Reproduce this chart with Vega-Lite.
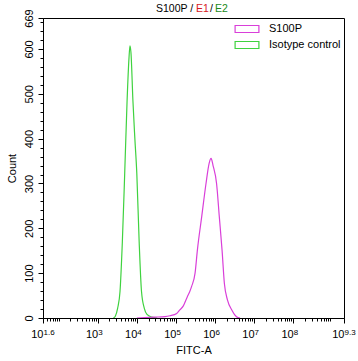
{
  "$schema": "https://vega.github.io/schema/vega-lite/v6.json",
  "autosize": {"type": "none"},
  "padding": {"left": 43, "top": 18, "right": 14, "bottom": 43},
  "width": 301,
  "height": 300,
  "background": "white",
  "config": {
    "view": {"stroke": "black", "strokeWidth": 1},
    "font": "Liberation Sans",
    "axis": {"domainColor": "black", "tickColor": "black", "labelColor": "black", "titleColor": "black", "titleFontWeight": "normal", "labelFont": "Liberation Sans", "titleFont": "Liberation Sans", "grid": false, "labelOverlap": false, "labelFlush": false, "labelBound": false}
  },
  "datasets": {
    "curves": [
      {"series": "Isotype control", "fitc_log": 3.40, "count": 0},
      {"series": "Isotype control", "fitc_log": 3.45, "count": 4},
      {"series": "Isotype control", "fitc_log": 3.51, "count": 22},
      {"series": "Isotype control", "fitc_log": 3.57, "count": 59},
      {"series": "Isotype control", "fitc_log": 3.63, "count": 170},
      {"series": "Isotype control", "fitc_log": 3.69, "count": 322},
      {"series": "Isotype control", "fitc_log": 3.75, "count": 482},
      {"series": "Isotype control", "fitc_log": 3.80, "count": 580},
      {"series": "Isotype control", "fitc_log": 3.825, "count": 607},
      {"series": "Isotype control", "fitc_log": 3.85, "count": 592},
      {"series": "Isotype control", "fitc_log": 3.90, "count": 485},
      {"series": "Isotype control", "fitc_log": 3.95, "count": 400},
      {"series": "Isotype control", "fitc_log": 4.00, "count": 322},
      {"series": "Isotype control", "fitc_log": 4.06, "count": 170},
      {"series": "Isotype control", "fitc_log": 4.12, "count": 59},
      {"series": "Isotype control", "fitc_log": 4.19, "count": 22},
      {"series": "Isotype control", "fitc_log": 4.26, "count": 8},
      {"series": "Isotype control", "fitc_log": 4.38, "count": 2},
      {"series": "Isotype control", "fitc_log": 4.52, "count": 0},
      {"series": "S100P", "fitc_log": 4.00, "count": 0},
      {"series": "S100P", "fitc_log": 4.20, "count": 1},
      {"series": "S100P", "fitc_log": 4.45, "count": 2},
      {"series": "S100P", "fitc_log": 4.72, "count": 3},
      {"series": "S100P", "fitc_log": 4.85, "count": 5},
      {"series": "S100P", "fitc_log": 5.02, "count": 10},
      {"series": "S100P", "fitc_log": 5.10, "count": 18},
      {"series": "S100P", "fitc_log": 5.19, "count": 27},
      {"series": "S100P", "fitc_log": 5.29, "count": 47},
      {"series": "S100P", "fitc_log": 5.35, "count": 58},
      {"series": "S100P", "fitc_log": 5.40, "count": 70},
      {"series": "S100P", "fitc_log": 5.49, "count": 100},
      {"series": "S100P", "fitc_log": 5.55, "count": 152},
      {"series": "S100P", "fitc_log": 5.66, "count": 226},
      {"series": "S100P", "fitc_log": 5.77, "count": 300},
      {"series": "S100P", "fitc_log": 5.85, "count": 345},
      {"series": "S100P", "fitc_log": 5.90, "count": 356},
      {"series": "S100P", "fitc_log": 5.95, "count": 340},
      {"series": "S100P", "fitc_log": 6.04, "count": 300},
      {"series": "S100P", "fitc_log": 6.11, "count": 226},
      {"series": "S100P", "fitc_log": 6.18, "count": 152},
      {"series": "S100P", "fitc_log": 6.24, "count": 77},
      {"series": "S100P", "fitc_log": 6.32, "count": 40},
      {"series": "S100P", "fitc_log": 6.43, "count": 18},
      {"series": "S100P", "fitc_log": 6.55, "count": 3},
      {"series": "S100P", "fitc_log": 6.64, "count": 0}
    ]
  },
  "layer": [
    {
      "data": {"name": "curves"},
      "mark": {"type": "line", "strokeWidth": 1.2, "interpolate": "monotone", "clip": true},
      "encoding": {
        "x": {
          "field": "fitc_log", "type": "quantitative",
          "scale": {"domain": [1.6, 9.3], "nice": false, "zero": false},
          "axis": {
            "orient": "bottom",
            "title": "FITC-A", "titleFontSize": 11, "titlePadding": 5,
            "values": [1.6, 3, 4, 5, 6, 7, 8, 9.3],
            "labelExpr": "'10'",
            "tickSize": 5,
            "labelAlign": "right", "labelPadding": 5, "labelFontSize": 11
          }
        },
        "y": {
          "field": "count", "type": "quantitative",
          "scale": {"domain": [0, 669], "nice": false},
          "axis": {
            "orient": "left",
            "title": "Count", "titleFontSize": 11, "titlePadding": 6,
            "values": [0, 100, 200, 300, 400, 500, 600, 669],
            "tickSize": 5,
            "labelAngle": 270, "labelAlign": "center", "labelBaseline": "bottom", "labelPadding": 4, "labelFontSize": 11
          }
        },
        "color": {
          "field": "series", "type": "nominal",
          "scale": {"domain": ["S100P", "Isotype control"], "range": ["#d93fd9", "#3fd23f"]},
          "legend": {
            "title": null, "orient": "top-right", "offset": 3, "padding": 0,
            "symbolType": "M-1.7,-0.5L1.7,-0.5L1.7,0.5L-1.7,0.5Z",
            "symbolSize": 196, "symbolFillColor": "transparent", "symbolStrokeWidth": 1.2,
            "labelOffset": 14, "labelFontSize": 11, "labelFont": "Liberation Sans", "labelColor": "black",
            "rowPadding": 2
          }
        }
      }
    },
    {
      "data": {"values": [{}]},
      "mark": {"type": "text", "text": "S100P /", "align": "left", "baseline": "alphabetic", "dy": -6, "fontSize": 10.5, "color": "black", "clip": false},
      "encoding": {
        "x": {
          "datum": 4.49, "type": "quantitative",
          "axis": {
            "orient": "bottom",
            "title": null, "domain": false, "ticks": false,
            "values": [1.6, 3, 4, 5, 6, 7, 8, 9.3],
            "labelExpr": "datum.value == 1.6 ? '1.6' : datum.value == 9.3 ? '9.3' : format(datum.value, 'd')",
            "labelAlign": "left", "labelDx": 2, "labelPadding": 10, "labelFontSize": 8, "labelBaseline": "top"
          }
        },
        "y": {
          "datum": 669, "type": "quantitative",
          "axis": {
            "orient": "left", "title": null, "domain": false, "labels": false,
            "values": [20, 40, 60, 80, 120, 140, 160, 180, 220, 240, 260, 280, 320, 340, 360, 380, 420, 440, 460, 480, 520, 540, 560, 580, 620, 640, 660],
            "tickSize": 3
          }
        }
      }
    },
    {
      "data": {"values": [{}]},
      "mark": {"type": "text", "text": "E1", "align": "left", "baseline": "alphabetic", "dy": -6, "fontSize": 10.5, "color": "#d7191c", "clip": false},
      "encoding": {
        "x": {
          "datum": 5.513, "type": "quantitative",
          "axis": {
            "orient": "bottom", "title": null, "domain": false, "labels": false, "tickSize": 3,
            "values": [1.69897, 1.77815, 1.8451, 1.90309, 1.95424, 2, 2.30103, 2.47712, 2.60206, 2.69897, 2.77815, 2.8451, 2.90309, 2.95424, 3.30103, 3.47712, 3.60206, 3.69897, 3.77815, 3.8451, 3.90309, 3.95424, 4.30103, 4.47712, 4.60206, 4.69897, 4.77815, 4.8451, 4.90309, 4.95424, 5.30103, 5.47712, 5.60206, 5.69897, 5.77815, 5.8451, 5.90309, 5.95424, 6.30103, 6.47712, 6.60206, 6.69897, 6.77815, 6.8451, 6.90309, 6.95424, 7.30103, 7.47712, 7.60206, 7.69897, 7.77815, 7.8451, 7.90309, 7.95424, 8.30103, 8.47712, 8.60206, 8.69897, 8.77815, 8.8451, 8.90309, 8.95424]
          }
        },
        "y": {"datum": 669, "type": "quantitative", "axis": null}
      }
    },
    {
      "data": {"values": [{}]},
      "mark": {"type": "text", "text": "/", "align": "left", "baseline": "alphabetic", "dy": -6, "fontSize": 10.5, "color": "black", "clip": false},
      "encoding": {
        "x": {"datum": 5.87, "type": "quantitative", "axis": null},
        "y": {"datum": 669, "type": "quantitative", "axis": null}
      }
    },
    {
      "data": {"values": [{}]},
      "mark": {"type": "text", "text": "E2", "align": "left", "baseline": "alphabetic", "dy": -6, "fontSize": 10.5, "color": "#1a8a1a", "clip": false},
      "encoding": {
        "x": {"datum": 6.0, "type": "quantitative", "axis": null},
        "y": {"datum": 669, "type": "quantitative", "axis": null}
      }
    }
  ],
  "resolve": {"axis": {"x": "independent", "y": "independent"}}
}
